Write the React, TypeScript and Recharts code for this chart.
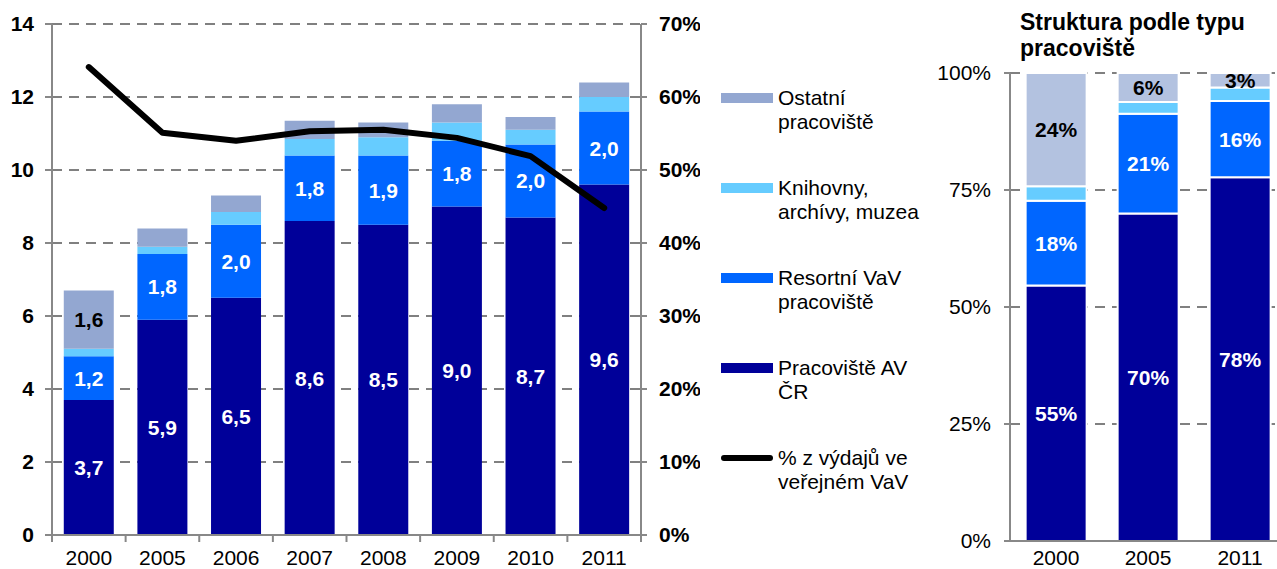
import { ComposedChart, BarChart, Bar, Line, XAxis, YAxis, CartesianGrid, LabelList } from "recharts"

const FONT = "'Liberation Sans', Arial, sans-serif"

// levý graf – výdaje (mld. Kč) podle typu pracoviště
const years = ["2000", "2005", "2006", "2007", "2008", "2009", "2010", "2011"]
const avCR = [3.7, 5.9, 6.5, 8.6, 8.5, 9.0, 8.7, 9.6]
const resortni = [1.2, 1.8, 2.0, 1.8, 1.9, 1.8, 2.0, 2.0]
const knihovny = [0.2, 0.2, 0.35, 0.45, 0.5, 0.5, 0.4, 0.4]
const ostatni = [1.6, 0.5, 0.45, 0.5, 0.4, 0.5, 0.35, 0.4]
const ostatniLabels = ["1,6", null, null, null, null, null, null, null]
const podilVerejne = [64.1, 55.1, 54.0, 55.3, 55.5, 54.4, 51.9, 44.8]
const leftTicks = [0, 2, 4, 6, 8, 10, 12, 14]
const rightTicks = [0, 10, 20, 30, 40, 50, 60, 70]

// pravý graf – struktura (%)
const strukturaRoky = ["2000", "2005", "2011"]
const podilAV = [54.6, 70.0, 77.7]
const podilResort = [18.1, 21.3, 16.3]
const podilKnihovny = [3.1, 2.5, 2.9]
const podilOstatni = [24.2, 6.2, 3.1]
const strukturaTicks = [0, 25, 50, 75, 100]

const legendItems = [
  { name: ["Ostatní", "pracoviště"], color: "#93a7d1", line: false },
  { name: ["Knihovny,", "archívy, muzea"], color: "#66ccff", line: false },
  { name: ["Resortní VaV", "pracoviště"], color: "#0066ff", line: false },
  { name: ["Pracoviště AV", "ČR"], color: "#000099", line: false },
  { name: ["% z výdajů ve", "veřejném VaV"], color: "#000000", line: true },
]
const legendTops = [86, 176, 266, 356, 446]

const fmt = (v: number) => v.toFixed(1).replace(".", ",")

const leftData = years.map((y, i) => ({
  year: y,
  av: avCR[i],
  res: resortni[i],
  kn: knihovny[i],
  ost: ostatni[i],
  ostLabel: ostatniLabels[i],
  pct: podilVerejne[i],
}))

const rightData = strukturaRoky.map((y, i) => ({
  year: y,
  av: podilAV[i],
  res: podilResort[i],
  kn: podilKnihovny[i],
  ost: podilOstatni[i],
}))

const LEFT_W = 700
const LEFT_YAXIS_W = 52
const RIGHT_YAXIS_W = 59
const PLOT_W = LEFT_W - LEFT_YAXIS_W - RIGHT_YAXIS_W

const LeftXTick = (props: any) => {
  const { x, y, payload, index } = props
  const band = PLOT_W / years.length
  return (
    <g>
      <line x1={x - band / 2} x2={x - band / 2} y1={y} y2={y + 7} stroke="#888" strokeWidth={2} />
      {index === years.length - 1 && (
        <line x1={x + band / 2} x2={x + band / 2} y1={y} y2={y + 7} stroke="#888" strokeWidth={2} />
      )}
      <text x={x} y={y + 30} textAnchor="middle" fontSize={21} fill="#000" fontFamily={FONT}>
        {payload.value}
      </text>
    </g>
  )
}

const barLabel = { fill: "#fff", fontSize: 21, fontWeight: "bold", fontFamily: FONT }
const darkLabel = { fill: "#000", fontSize: 21, fontWeight: "bold", fontFamily: FONT }

export default function App() {
  return (
    <div
      style={{
        position: "absolute",
        left: 0,
        top: 0,
        width: 1277,
        height: 569,
        overflow: "hidden",
        background: "#fff",
        fontFamily: FONT,
      }}
    >
      <div style={{ position: "absolute", left: 0, top: 0 }}>
        <ComposedChart
          width={LEFT_W}
          height={569}
          data={leftData}
          margin={{ top: 24, right: 0, bottom: 0, left: 0 }}
          barCategoryGap="16%"
        >
          <CartesianGrid vertical={false} stroke="#808080" strokeWidth={2} strokeDasharray="10 7" yAxisId="left" />
          <XAxis
            dataKey="year"
            height={34}
            tickSize={0}
            tickMargin={0}
            tick={<LeftXTick />}
            axisLine={{ stroke: "#888", strokeWidth: 2 }}
            interval={0}
          />
          <YAxis
            yAxisId="left"
            width={LEFT_YAXIS_W}
            domain={[0, 14]}
            ticks={leftTicks}
            tickSize={7}
            tickMargin={11}
            axisLine={{ stroke: "#888", strokeWidth: 2 }}
            tickLine={{ stroke: "#888", strokeWidth: 2 }}
            tick={{ fill: "#000", fontSize: 21, fontWeight: "bold", fontFamily: FONT }}
          />
          <YAxis
            yAxisId="right"
            orientation="right"
            width={RIGHT_YAXIS_W}
            domain={[0, 70]}
            ticks={rightTicks}
            tickFormatter={(v: number) => `${v}%`}
            tickSize={6}
            tickMargin={12}
            axisLine={{ stroke: "#888", strokeWidth: 2 }}
            tickLine={{ stroke: "#888", strokeWidth: 2 }}
            tick={{ fill: "#000", fontSize: 21, fontWeight: "bold", fontFamily: FONT, textAnchor: "start" }}
          />
          <Bar yAxisId="left" dataKey="av" stackId="a" fill="#000099" isAnimationActive={false}>
            <LabelList dataKey="av" position="center" formatter={(v: any) => fmt(Number(v))} style={barLabel} />
          </Bar>
          <Bar yAxisId="left" dataKey="res" stackId="a" fill="#0066ff" isAnimationActive={false}>
            <LabelList dataKey="res" position="center" formatter={(v: any) => fmt(Number(v))} style={barLabel} />
          </Bar>
          <Bar yAxisId="left" dataKey="kn" stackId="a" fill="#66ccff" isAnimationActive={false} />
          <Bar yAxisId="left" dataKey="ost" stackId="a" fill="#93a7d1" isAnimationActive={false}>
            <LabelList dataKey="ostLabel" position="center" style={darkLabel} />
          </Bar>
          <Line
            yAxisId="right"
            dataKey="pct"
            type="linear"
            stroke="#000"
            strokeWidth={6}
            strokeLinecap="round"
            strokeLinejoin="round"
            dot={false}
            activeDot={false}
            isAnimationActive={false}
          />
        </ComposedChart>
      </div>

      {legendItems.map((item, i) => (
        <div
          key={i}
          style={{ position: "absolute", left: 721, top: legendTops[i], fontSize: 21, lineHeight: "24px", color: "#000" }}
        >
          {item.line ? (
            <div
              style={{
                position: "absolute",
                left: 0,
                top: 9,
                width: 52,
                height: 6,
                borderRadius: 3,
                background: item.color,
              }}
            />
          ) : (
            <div style={{ position: "absolute", left: 0, top: 7, width: 52, height: 10, background: item.color }} />
          )}
          <div style={{ marginLeft: 57, whiteSpace: "nowrap" }}>
            {item.name[0]}
            <br />
            {item.name[1]}
          </div>
        </div>
      ))}

      <div
        style={{
          position: "absolute",
          left: 1020,
          top: 9,
          fontSize: 23,
          fontWeight: "bold",
          lineHeight: "26px",
          color: "#000",
          whiteSpace: "nowrap",
        }}
      >
        Struktura podle typu
        <br />
        pracoviště
      </div>

      <div style={{ position: "absolute", left: 920, top: 0 }}>
        <BarChart
          width={370}
          height={569}
          data={rightData}
          margin={{ top: 73, right: 4, bottom: 0, left: 0 }}
          barCategoryGap="17%"
        >
          <CartesianGrid vertical={false} stroke="#808080" strokeWidth={2} strokeDasharray="10 7" />
          <XAxis
            dataKey="year"
            height={28}
            tickLine={false}
            tickSize={0}
            tickMargin={9}
            axisLine={{ stroke: "#888", strokeWidth: 2 }}
            tick={{ fill: "#000", fontSize: 21, fontFamily: FONT }}
            interval={0}
          />
          <YAxis
            width={90}
            domain={[0, 100]}
            ticks={strukturaTicks}
            tickFormatter={(v: number) => `${v}%`}
            tickSize={6}
            tickMargin={13}
            axisLine={{ stroke: "#888", strokeWidth: 2 }}
            tickLine={{ stroke: "#888", strokeWidth: 2 }}
            tick={{ fill: "#000", fontSize: 21, fontFamily: FONT }}
          />
          <Bar dataKey="av" stackId="s" fill="#000099" stroke="#fff" strokeWidth={2} isAnimationActive={false}>
            <LabelList dataKey="av" position="center" formatter={(v: any) => `${Math.round(Number(v))}%`} style={barLabel} />
          </Bar>
          <Bar dataKey="res" stackId="s" fill="#0066ff" stroke="#fff" strokeWidth={2} isAnimationActive={false}>
            <LabelList dataKey="res" position="center" formatter={(v: any) => `${Math.round(Number(v))}%`} style={barLabel} />
          </Bar>
          <Bar dataKey="kn" stackId="s" fill="#66ccff" stroke="#fff" strokeWidth={2} isAnimationActive={false} />
          <Bar dataKey="ost" stackId="s" fill="#b3c2e0" stroke="#fff" strokeWidth={2} isAnimationActive={false}>
            <LabelList dataKey="ost" position="center" formatter={(v: any) => `${Math.round(Number(v))}%`} style={darkLabel} />
          </Bar>
        </BarChart>
      </div>
    </div>
  )
}
